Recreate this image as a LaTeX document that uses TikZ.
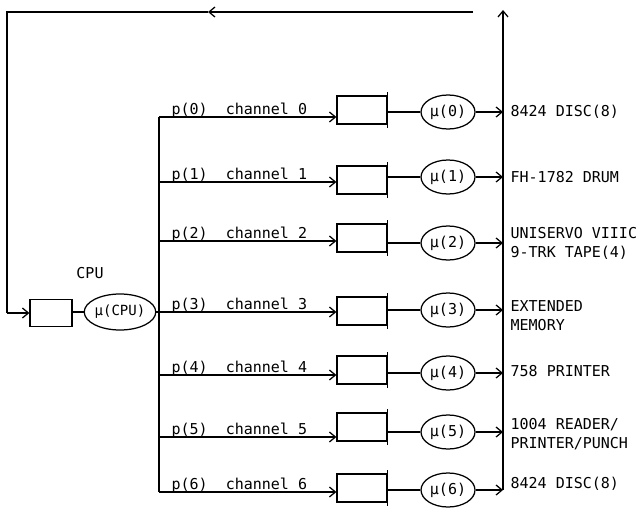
\documentclass[tikz,border=0pt]{standalone}
\usepackage{fontspec}
\setmonofont{DejaVu Sans Mono}
\usetikzlibrary{arrows.meta,shapes.geometric}
\begin{document}
\begin{tikzpicture}[x=1pt,y=-1pt,
  font=\ttfamily\fontsize{15}{19}\selectfont, line width=1.25pt,
  arr/.style={-{Straight Barb[length=6pt,width=10pt]}},
  cbox/.style={draw, minimum width=50pt, minimum height=28pt, inner sep=0},
  mu/.style={draw, ellipse, minimum width=54pt, minimum height=34pt, inner sep=0},
  lbl/.style={anchor=west, align=left, inner sep=0},
  plbl/.style={anchor=base west, inner sep=0}]
\useasboundingbox (0,0) rectangle (636,508);

% channel rows
\foreach \i/\r/\b/\m in {0/117/110/112, 1/182/180/177, 2/241/238/243, 3/312/311/310, 4/375/370/373, 5/437/427/432, 6/492/488/490}{
  \coordinate (s\i) at (159,\r);
  \node[cbox] (b\i) at (362,\b) {};
  \draw ([yshift=3pt]b\i.north east) -- ([yshift=-3pt]b\i.south east);
  \draw[arr] (s\i) -- (s\i -| b\i.west);
  \node[mu] (m\i) at (448,\m) {μ(\i)};
  \draw (b\i.east |- m\i.west) -- (m\i.west);
  \coordinate (v\i) at (503,\m);
  \draw[arr] (m\i.east) -- (v\i);
  \node[plbl] (p\i) at (171,\r-3) {p(\i)\ \ channel \i};
}

% device labels
\node[lbl] (d0) at (510,112) {8424 DISC(8)};
\node[lbl] (d1) at (510,177) {FH-1782 DRUM};
\node[lbl] (d2) at (510,243) {UNISERVO VIIIC\\9-TRK TAPE(4)};
\node[lbl] (d3) at (510,316) {EXTENDED\\MEMORY};
\node[lbl] (d4) at (510,371) {758 PRINTER};
\node[lbl] (d5) at (510,434) {1004 READER/\\PRINTER/PUNCH};
\node[lbl] (d6) at (510,484) {8424 DISC(8)};

% bus
\draw (s0) -- (s6);

% CPU
\node[cbox, minimum width=42pt, minimum height=27pt] (cb) at (51,313) {};
\node[mu, minimum height=36pt] (ce) at (120,312) {\fontsize{14}{16}\selectfont μ(CPU)};
\node (cpul) at (90,273) {CPU};
\draw (cb.east |- ce.west) -- (ce.west);
\draw (ce.east) -- (ce.east -| s3);

% feedback loop
\coordinate (tr) at (503,10);
\coordinate (tl) at (473,12);
\coordinate (mid) at (208,12);
\coordinate (tc) at (7,12);
\coordinate (lc) at (7,313);
\draw[arr] (v6) -- (tr);
\draw[arr] (tl) -- (mid);
\draw (mid) -- (tc) -- (lc);
\draw[arr] (lc) -- (cb.west);
\end{tikzpicture}
\end{document}
